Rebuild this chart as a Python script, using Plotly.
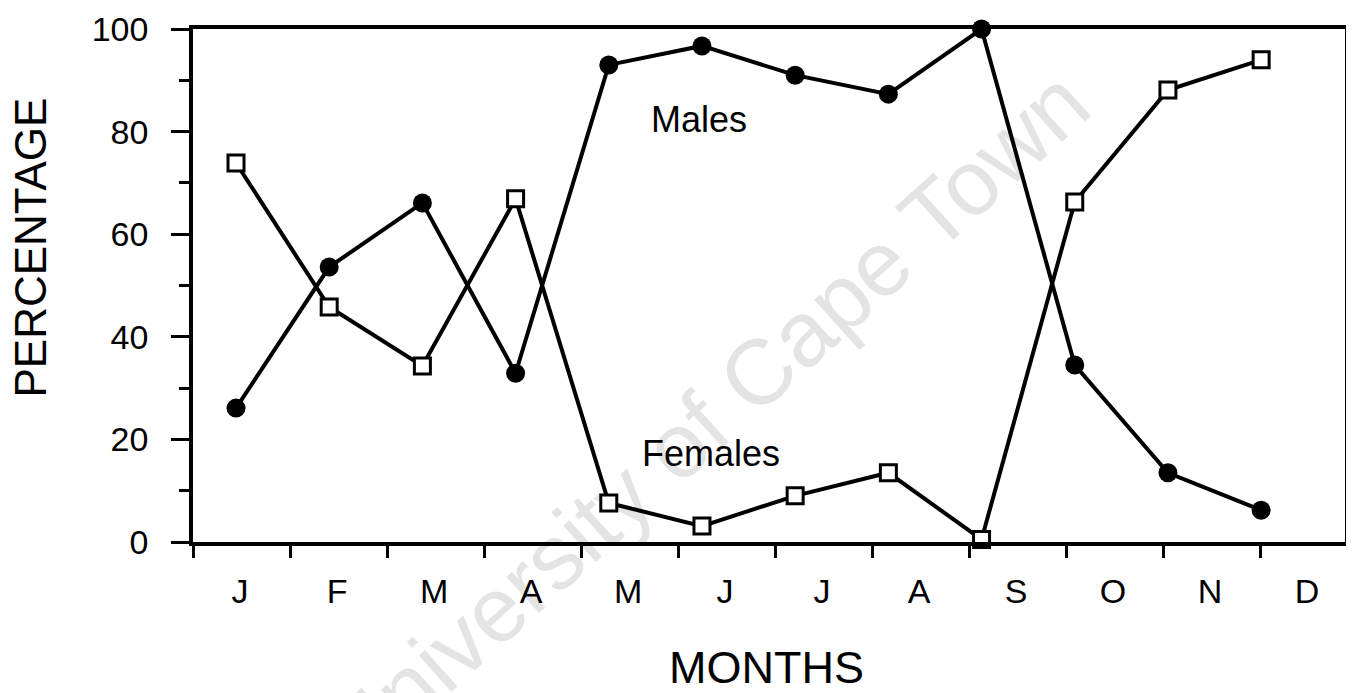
import plotly.graph_objects as go

# ---- data ----
months = ["J", "F", "M", "A", "M", "J", "J", "A", "S", "O", "N", "D"]
males = [26.1, 53.6, 66.1, 32.9, 93.0, 96.7, 91.0, 87.3, 100.0, 34.5, 13.5, 6.2]
females = [73.9, 45.8, 34.3, 66.9, 7.6, 3.1, 9.0, 13.5, 0.5, 66.3, 88.1, 94.0]
y_major = [0, 20, 40, 60, 80, 100]
y_minor = [10, 30, 50, 70, 90]

idx = list(range(len(months)))
FONT = "Liberation Sans, Arial, Helvetica, sans-serif"

fig = go.Figure()
fig.add_trace(go.Scatter(
    x=idx, y=males, mode="lines+markers", name="Males", showlegend=False,
    line=dict(color="black", width=4),
    marker=dict(symbol="circle", size=19, color="black"),
    cliponaxis=False))
fig.add_trace(go.Scatter(
    x=idx, y=females, mode="lines+markers", name="Females", showlegend=False,
    line=dict(color="black", width=4),
    marker=dict(symbol="square", size=16, color="white",
                line=dict(color="black", width=3)),
    cliponaxis=False))
# empty trace to register the overlaid month-tick axis
fig.add_trace(go.Scatter(x=[], y=[], xaxis="x2", yaxis="y", showlegend=False,
                         hoverinfo="skip"))

n_ticks = len(months)
fig.update_layout(
    width=1346, height=685,
    margin=dict(l=185, r=9, t=21, b=151),
    paper_bgcolor="white", plot_bgcolor="white",
    font=dict(family=FONT, color="black"),
    xaxis=dict(range=[-0.4615, 11.90], showline=True, linewidth=3.5,
               linecolor="black", mirror=True, ticks="", showticklabels=False,
               showgrid=False, zeroline=False, automargin=False),
    xaxis2=dict(overlaying="x", anchor="y", side="bottom",
                range=[0, 11.876], tickmode="array",
                tickvals=[k + 0.485 for k in range(n_ticks)], ticktext=months,
                ticks="", showline=False, showgrid=False, zeroline=False,
                automargin=False,
                tickfont=dict(size=34, family=FONT, color="black"),
                ticklabelstandoff=26,
                minor=dict(tickmode="array", tickvals=list(range(n_ticks)),
                           ticks="outside", ticklen=15, tickwidth=3,
                           tickcolor="black", showgrid=False)),
    yaxis=dict(range=[0, 100], tickmode="array", tickvals=y_major,
               ticks="outside", ticklen=18, tickwidth=3, tickcolor="black",
               showline=True, linewidth=3.5, linecolor="black", mirror=True,
               showgrid=False, zeroline=False, automargin=False,
               tickfont=dict(size=34, family=FONT, color="black"),
               ticklabelstandoff=16,
               minor=dict(tickmode="array", tickvals=y_minor, ticks="outside",
                          ticklen=10, tickwidth=3, tickcolor="black",
                          showgrid=False)),
)

# watermark behind the data
fig.add_shape(type="line", xref="paper", yref="paper",
              x0=0.2465, y0=-0.140, x1=0.6337, y1=0.6438,
              line=dict(color="rgba(0,0,0,0)", width=0), layer="below",
              label=dict(text="University of Cape Town", textangle=-42,
                         textposition="middle", yanchor="middle",
                         font=dict(size=92, color="#e4e4e4", family=FONT)))

fig.add_annotation(text="Males", x=4.97, y=82.3, xref="x", yref="y",
                   showarrow=False, font=dict(size=36, family=FONT))
fig.add_annotation(text="Females", x=5.10, y=17.2, xref="x", yref="y",
                   showarrow=False, font=dict(size=36, family=FONT))
fig.add_annotation(text="PERCENTAGE", x=0, y=0.5, xref="paper", yref="paper",
                   xshift=-163, yshift=38, textangle=-90, showarrow=False,
                   xanchor="center", yanchor="middle",
                   font=dict(size=44, family=FONT))
fig.add_annotation(text="MONTHS", x=0.5, y=0, xref="paper", yref="paper",
                   xshift=-3, yshift=-125, showarrow=False,
                   xanchor="center", yanchor="middle",
                   font=dict(size=45, family=FONT))

fig.write_html("out.html")
